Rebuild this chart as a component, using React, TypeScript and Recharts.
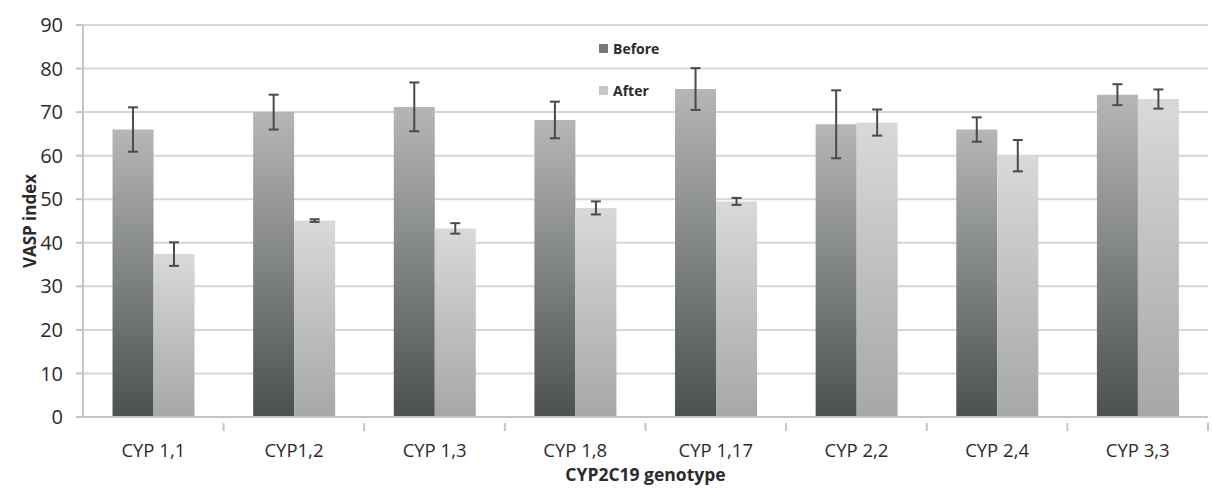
import React from "react";
import {
  BarChart,
  Bar,
  XAxis,
  YAxis,
  CartesianGrid,
  ErrorBar,
  Label,
} from "recharts";

const genotypes = ["CYP 1,1", "CYP1,2", "CYP 1,3", "CYP 1,8", "CYP 1,17", "CYP 2,2", "CYP 2,4", "CYP 3,3"];
const beforeValues = [66, 70, 71.2, 68.2, 75.3, 67.2, 66, 74];
const beforeErrors = [5.1, 4, 5.6, 4.2, 4.8, 7.8, 2.8, 2.4];
const afterValues = [37.4, 45.1, 43.3, 48, 49.5, 67.6, 60, 73];
const afterErrors = [2.7, 0.3, 1.2, 1.5, 0.8, 3, 3.6, 2.2];
const yTicks = [0, 10, 20, 30, 40, 50, 60, 70, 80, 90];

const chartData = genotypes.map((g, i) => ({
  genotype: g,
  before: beforeValues[i],
  beforeErr: beforeErrors[i],
  after: afterValues[i],
  afterErr: afterErrors[i],
}));

const FONT = "'Open Sans', sans-serif";
const TEXT = "#2b2b2b";

// category label in the middle, tick mark on the boundary to the right
function GenotypeTick(props: any) {
  const { x, y, payload } = props;
  const half = payload?.offset ?? 70.3;
  return (
    <g>
      <line x1={x + half} y1={y - 22} x2={x + half} y2={y - 14} stroke="#c4c4c4" strokeWidth={2} />
      <text x={x} y={y - 1} dy="0.71em" textAnchor="middle" fontSize={18.5} fontFamily={FONT} fill={TEXT}>
        {payload.value}
      </text>
    </g>
  );
}

function LegendBox() {
  const items = [
    { label: "Before", color: "#77797a" },
    { label: "After", color: "#c6c8c8" },
  ];
  return (
    <div style={{ position: "absolute", left: 599, top: 38, fontFamily: FONT, fontWeight: 700, fontSize: 14, color: TEXT }}>
      {items.map((it, i) => (
        <div key={it.label} style={{ display: "flex", alignItems: "center", height: 20, marginTop: i ? 22 : 0 }}>
          <span style={{ width: 9, height: 9, background: it.color, marginRight: 5, display: "inline-block" }} />
          {it.label}
        </div>
      ))}
    </div>
  );
}

export default function App() {
  return (
    <div style={{ position: "absolute", left: 0, top: 0, background: "#fff" }}>
      <BarChart
        width={1212}
        height={488}
        data={chartData}
        margin={{ top: 25, right: 4, left: 0, bottom: 0 }}
        barCategoryGap="21%"
        barGap={0}
      >
        <defs>
          <linearGradient id="gBefore" x1="0" y1="0" x2="0" y2="1">
            <stop offset="0%" stopColor="#b4b6b7" />
            <stop offset="100%" stopColor="#4d5051" />
          </linearGradient>
          <linearGradient id="gAfter" x1="0" y1="0" x2="0" y2="1">
            <stop offset="0%" stopColor="#d8dad9" />
            <stop offset="100%" stopColor="#a5a7a8" />
          </linearGradient>
        </defs>
        <CartesianGrid vertical={false} stroke="#d6d6d6" strokeWidth={2} />
        <XAxis
          dataKey="genotype"
          height={71}
          axisLine={{ stroke: "#c4c4c4", strokeWidth: 2 }}
          tickLine={false}
          tick={<GenotypeTick />}
          tickMargin={22}
          interval={0}
        >
          <Label
            content={(p: any) => (
              <text x={p.viewBox.x + p.viewBox.width / 2} y={481} textAnchor="middle" fontSize={17.5} fontWeight={700} fontFamily={FONT} fill={TEXT}>
                CYP2C19 genotype
              </text>
            )}
          />
        </XAxis>
        <YAxis
          width={83}
          domain={[0, 90]}
          ticks={yTicks}
          axisLine={{ stroke: "#c4c4c4", strokeWidth: 2 }}
          tickLine={{ stroke: "#c4c4c4", strokeWidth: 2 }}
          tickSize={7}
          tickMargin={13}
          tick={{ fontSize: 20, fontFamily: FONT, fill: TEXT }}
        >
          <Label
            content={(p: any) => {
              const cy = p.viewBox.y + p.viewBox.height / 2;
              return (
                <text x={36} y={cy} transform={`rotate(-90, 36, ${cy})`} textAnchor="middle" fontSize={17} fontWeight={700} fontFamily={FONT} fill={TEXT}>
                  VASP index
                </text>
              );
            }}
          />
        </YAxis>
        <Bar dataKey="before" name="Before" fill="url(#gBefore)" isAnimationActive={false}>
          <ErrorBar dataKey="beforeErr" width={5} stroke="#4a4a4a" strokeWidth={2} />
        </Bar>
        <Bar dataKey="after" name="After" fill="url(#gAfter)" isAnimationActive={false}>
          <ErrorBar dataKey="afterErr" width={5} stroke="#4a4a4a" strokeWidth={2} />
        </Bar>
      </BarChart>
      <LegendBox />
    </div>
  );
}
